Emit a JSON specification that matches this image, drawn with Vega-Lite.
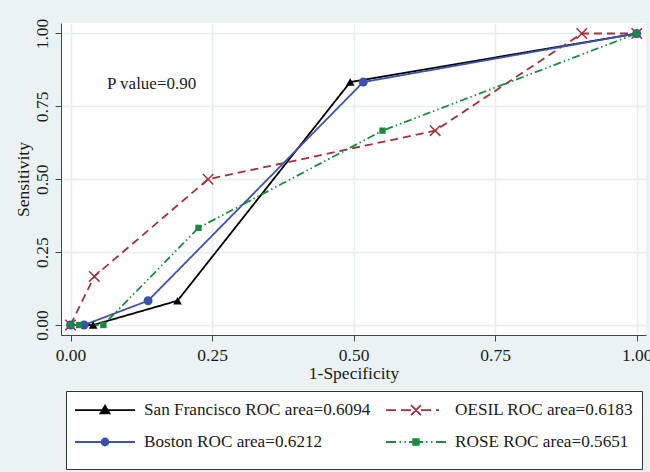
{
  "$schema": "https://vega.github.io/schema/vega-lite/v6.json",
  "width": 585,
  "height": 312,
  "autosize": {"type": "none"},
  "padding": {"left": 61, "top": 23, "right": 4, "bottom": 137},
  "background": "#EAF2F3",
  "config": {
    "font": "Liberation Serif",
    "view": {"fill": "white", "stroke": null}
  },
  "datasets": {
    "roc": [
      {"series": "San Francisco ROC area=0.6094", "fpr": 0, "tpr": 0},
      {"series": "San Francisco ROC area=0.6094", "fpr": 0.04, "tpr": 0},
      {"series": "San Francisco ROC area=0.6094", "fpr": 0.189, "tpr": 0.0833},
      {"series": "San Francisco ROC area=0.6094", "fpr": 0.494, "tpr": 0.8333},
      {"series": "San Francisco ROC area=0.6094", "fpr": 1, "tpr": 1},
      {"series": "OESIL ROC area=0.6183", "fpr": 0, "tpr": 0},
      {"series": "OESIL ROC area=0.6183", "fpr": 0.042, "tpr": 0.1667},
      {"series": "OESIL ROC area=0.6183", "fpr": 0.243, "tpr": 0.5},
      {"series": "OESIL ROC area=0.6183", "fpr": 0.644, "tpr": 0.6667},
      {"series": "OESIL ROC area=0.6183", "fpr": 0.903, "tpr": 1},
      {"series": "OESIL ROC area=0.6183", "fpr": 1, "tpr": 1},
      {"series": "Boston ROC area=0.6212", "fpr": 0, "tpr": 0},
      {"series": "Boston ROC area=0.6212", "fpr": 0.024, "tpr": 0},
      {"series": "Boston ROC area=0.6212", "fpr": 0.137, "tpr": 0.0833},
      {"series": "Boston ROC area=0.6212", "fpr": 0.517, "tpr": 0.8333},
      {"series": "Boston ROC area=0.6212", "fpr": 1, "tpr": 1},
      {"series": "ROSE ROC area=0.5651", "fpr": 0, "tpr": 0},
      {"series": "ROSE ROC area=0.5651", "fpr": 0.015, "tpr": 0},
      {"series": "ROSE ROC area=0.5651", "fpr": 0.058, "tpr": 0},
      {"series": "ROSE ROC area=0.5651", "fpr": 0.226, "tpr": 0.3333},
      {"series": "ROSE ROC area=0.5651", "fpr": 0.551, "tpr": 0.6667},
      {"series": "ROSE ROC area=0.5651", "fpr": 1, "tpr": 1}
    ]
  },
  "layer": [
    {
      "data": {"name": "roc"},
      "mark": {"type": "line", "strokeWidth": 1.8},
      "encoding": {
        "x": {
          "field": "fpr", "type": "quantitative",
          "scale": {"domain": [-0.0168, 1.0164], "nice": false, "zero": false},
          "axis": {
            "title": "1-Specificity", "values": [0, 0.25, 0.5, 0.75, 1], "format": ".2f",
            "grid": true, "gridColor": "#E4EEF0", "gridWidth": 1.5,
            "domainColor": "#444444", "tickColor": "#444444", "tickSize": 6, "tickWidth": 1,
            "labelFontSize": 17.5, "labelColor": "#1a1a1a", "labelPadding": 5,
            "labelFlush": false, "labelOverlap": false,
            "titleFontSize": 17.5, "titleFontWeight": "normal", "titleColor": "#1a1a1a", "titlePadding": 1
          }
        },
        "y": {
          "field": "tpr", "type": "quantitative",
          "scale": {"domain": [-0.0343, 1.036], "nice": false, "zero": false},
          "axis": {
            "title": "Sensitivity", "values": [0, 0.25, 0.5, 0.75, 1], "format": ".2f",
            "grid": true, "gridColor": "#E4EEF0", "gridWidth": 1.5,
            "domainColor": "#444444", "tickColor": "#444444", "tickSize": 6, "tickWidth": 1,
            "labelFontSize": 17.5, "labelColor": "#1a1a1a", "labelPadding": 8,
            "labelAngle": -90, "labelAlign": "center", "labelBaseline": "alphabetic",
            "labelFlush": false, "labelOverlap": false,
            "titleFontSize": 17.5, "titleFontWeight": "normal", "titleColor": "#1a1a1a", "titlePadding": 1
          }
        },
        "color": {
          "field": "series", "type": "nominal", "legend": null,
          "scale": {
            "domain": ["Boston ROC area=0.6212", "OESIL ROC area=0.6183", "ROSE ROC area=0.5651", "San Francisco ROC area=0.6094"],
            "range": ["#3D52AE", "#A0303A", "#1B8A3F", "#000000"]
          }
        },
        "strokeDash": {
          "field": "series", "type": "nominal", "legend": null,
          "scale": {
            "domain": ["Boston ROC area=0.6212", "OESIL ROC area=0.6183", "ROSE ROC area=0.5651", "San Francisco ROC area=0.6094"],
            "range": [[1, 0], [8, 5], [8, 3, 1.5, 3, 1.5, 3], [1, 0]]
          }
        }
      }
    },
    {
      "data": {"name": "roc"},
      "transform": [{"filter": {"field": "series", "equal": "San Francisco ROC area=0.6094"}}],
      "mark": {"type": "point", "shape": "triangle-up", "filled": true, "opacity": 1, "size": 75},
      "encoding": {
        "x": {"field": "fpr", "type": "quantitative"},
        "y": {"field": "tpr", "type": "quantitative"},
        "color": {"field": "series", "type": "nominal", "legend": null}
      }
    },
    {
      "data": {"name": "roc"},
      "transform": [{"filter": {"field": "series", "equal": "OESIL ROC area=0.6183"}}],
      "mark": {"type": "point", "shape": "M-1,-1L1,1M-1,1L1,-1", "filled": false, "opacity": 1, "size": 110, "strokeWidth": 1.5},
      "encoding": {
        "x": {"field": "fpr", "type": "quantitative"},
        "y": {"field": "tpr", "type": "quantitative"},
        "color": {"field": "series", "type": "nominal", "legend": null}
      }
    },
    {
      "data": {"name": "roc"},
      "transform": [{"filter": {"field": "series", "equal": "Boston ROC area=0.6212"}}],
      "mark": {"type": "point", "shape": "circle", "filled": true, "opacity": 1, "size": 80},
      "encoding": {
        "x": {"field": "fpr", "type": "quantitative"},
        "y": {"field": "tpr", "type": "quantitative"},
        "color": {"field": "series", "type": "nominal", "legend": null}
      }
    },
    {
      "data": {"name": "roc"},
      "transform": [{"filter": {"field": "series", "equal": "ROSE ROC area=0.5651"}}],
      "mark": {"type": "point", "shape": "square", "filled": true, "opacity": 1, "size": 40},
      "encoding": {
        "x": {"field": "fpr", "type": "quantitative"},
        "y": {"field": "tpr", "type": "quantitative"},
        "color": {"field": "series", "type": "nominal", "legend": null}
      }
    },
    {
      "data": {"name": "roc"},
      "mark": {"type": "point", "opacity": 0, "filled": true},
      "encoding": {
        "x": {"field": "fpr", "type": "quantitative"},
        "y": {"field": "tpr", "type": "quantitative"},
        "fill": {
          "field": "series", "type": "nominal",
          "scale": {
            "domain": ["San Francisco ROC area=0.6094", "OESIL ROC area=0.6183", "Boston ROC area=0.6212", "ROSE ROC area=0.5651"],
            "range": ["#000000", "#A0303A", "#3D52AE", "#1B8A3F"]
          },
          "legend": {
            "title": null, "orient": "none", "legendX": 5, "legendY": 368, "columns": 2, "direction": "horizontal",
            "symbolSize": 400, "symbolStrokeWidth": 1.8, "symbolOpacity": 1, "symbolOffset": 0,
            "labelFont": "Liberation Serif", "labelFontSize": 17.2, "labelColor": "#1a1a1a", "labelLimit": 400, "labelOffset": 48,
            "columnPadding": 11, "rowPadding": 2, "padding": 8,
            "fillColor": "white", "strokeColor": "#333333"
          }
        },
        "stroke": {
          "field": "series", "type": "nominal",
          "scale": {
            "domain": ["San Francisco ROC area=0.6094", "OESIL ROC area=0.6183", "Boston ROC area=0.6212", "ROSE ROC area=0.5651"],
            "range": ["#000000", "#A0303A", "#3D52AE", "#1B8A3F"]
          },
          "legend": {
            "title": null, "orient": "none", "legendX": 5, "legendY": 368, "columns": 2, "direction": "horizontal",
            "symbolSize": 400, "symbolStrokeWidth": 1.8, "symbolOpacity": 1, "symbolOffset": 0,
            "labelFont": "Liberation Serif", "labelFontSize": 17.2, "labelColor": "#1a1a1a", "labelLimit": 400, "labelOffset": 48,
            "columnPadding": 11, "rowPadding": 2, "padding": 8,
            "fillColor": "white", "strokeColor": "#333333"
          }
        },
        "shape": {
          "field": "series", "type": "nominal",
          "scale": {
            "domain": ["San Francisco ROC area=0.6094", "OESIL ROC area=0.6183", "Boston ROC area=0.6212", "ROSE ROC area=0.5651"],
            "range": [
              "M-1,0L5,0M2,-0.45L2.45,0.32L1.55,0.32ZM2,1.5",
              "M-1,0L0,0M0.5,0L1.5,0M2.5,0L3.5,0M4,0L4.3,0M1.5,-0.5L2.5,0.5M1.5,0.5L2.5,-0.5M2,1.5",
              "M-1,0L5,0M1.65,0A0.35,0.35 0 1,0 2.35,0A0.35,0.35 0 1,0 1.65,0ZM2,1.5",
              "M-1,0L0,0M0.35,0L0.5,0M0.85,0L1,0M1.3,0L2.7,0M3,0L3.15,0M3.5,0L3.65,0M4,0L5,0M1.72,-0.28L2.28,-0.28L2.28,0.28L1.72,0.28ZM2,1.5"
            ]
          },
          "legend": {
            "title": null, "orient": "none", "legendX": 5, "legendY": 368, "columns": 2, "direction": "horizontal",
            "symbolSize": 400, "symbolStrokeWidth": 1.8, "symbolOpacity": 1, "symbolOffset": 0,
            "labelFont": "Liberation Serif", "labelFontSize": 17.2, "labelColor": "#1a1a1a", "labelLimit": 400, "labelOffset": 48,
            "columnPadding": 11, "rowPadding": 2, "padding": 8,
            "fillColor": "white", "strokeColor": "#333333"
          }
        }
      }
    },
    {
      "data": {"values": [{"label": "P value=0.90"}]},
      "mark": {"type": "text", "align": "left", "baseline": "middle", "fontSize": 17, "font": "Liberation Serif", "color": "#1a1a1a"},
      "encoding": {
        "x": {"datum": 0.0645, "type": "quantitative"},
        "y": {"datum": 0.827, "type": "quantitative"},
        "text": {"field": "label"}
      }
    }
  ]
}
